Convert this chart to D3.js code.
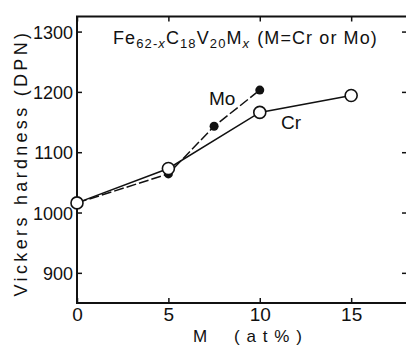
<!DOCTYPE html>
<html>
<head>
<meta charset="utf-8">
<script src="https://cdn.jsdelivr.net/npm/d3@7"></script>
<style>
  body { margin: 0; background: #fff; }
  svg { display: block; }
  text { font-family: "Liberation Sans", Arial, sans-serif; fill: #111; }
  .axis path { display: none; }
  .axis line { stroke: #111; stroke-width: 1.5; }
</style>
</head>
<body>
<div id="chart"></div>
<script>
// Cr series (open circles, solid line)
var crX = [0, 5, 10, 15]
var crY = [1016, 1073, 1166, 1194]
// Mo series (filled dots, dashed line)
var moX = [0, 5, 7.5, 10]
var moY = [1016, 1064, 1143, 1203]

var xTicks = [0, 5, 10, 15]
var yTicks = [900, 1000, 1100, 1200, 1300]

var width = 406, height = 345

var svg = d3.select('#chart').append('svg')
  .attr('width', width).attr('height', height)

var x = d3.scaleLinear().domain([0, 18]).range([77, 406])
var y = d3.scaleLinear().domain([850, 1325]).range([303, 16.5])

// frame (right edge is cut off in the original)
svg.append('path')
  .attr('d', 'M412,' + y(1325) + 'H' + x(0) + 'V' + y(850) + 'H412')
  .attr('fill', 'none').attr('stroke', '#111').attr('stroke-width', 2)

// bottom axis
svg.append('g').attr('class', 'axis')
  .attr('transform', 'translate(0,' + y(850) + ')')
  .call(d3.axisBottom(x).tickValues(xTicks).tickSize(-5).tickPadding(5).tickFormat(d3.format('d')))
  .selectAll('text').style('font-size', '19px')

// top axis ticks
svg.append('g').attr('class', 'axis')
  .attr('transform', 'translate(0,' + y(1325) + ')')
  .call(d3.axisTop(x).tickValues(xTicks).tickSize(-5).tickFormat(''))

// left axis
svg.append('g').attr('class', 'axis')
  .attr('transform', 'translate(' + x(0) + ',0)')
  .call(d3.axisLeft(y).tickValues(yTicks).tickSize(-5).tickPadding(4).tickFormat(d3.format('d')))
  .selectAll('text').style('font-size', '18px').attr('dy', '0.36em')

// right axis ticks
svg.append('g').attr('class', 'axis')
  .attr('transform', 'translate(408,0)')
  .call(d3.axisRight(y).tickValues(yTicks).tickSize(-6).tickFormat(''))

var cr = crX.map(function(d, i){ return {x: d, y: crY[i]} })
var mo = moX.map(function(d, i){ return {x: d, y: moY[i]} })

var line = d3.line().x(function(d){ return x(d.x) }).y(function(d){ return y(d.y) })

svg.append('path').attr('d', line(mo))
  .attr('fill', 'none').attr('stroke', '#111').attr('stroke-width', 1.5)
  .attr('stroke-dasharray', '10,3')

svg.append('path').attr('d', line(cr))
  .attr('fill', 'none').attr('stroke', '#111').attr('stroke-width', 1.5)

svg.selectAll('circle.mo').data(mo.slice(1)).enter().append('circle')
  .attr('class', 'mo')
  .attr('cx', function(d){ return x(d.x) }).attr('cy', function(d){ return y(d.y) })
  .attr('r', 4.5).attr('fill', '#111')

svg.selectAll('circle.cr').data(cr).enter().append('circle')
  .attr('class', 'cr')
  .attr('cx', function(d){ return x(d.x) }).attr('cy', function(d){ return y(d.y) })
  .attr('r', 6).attr('fill', '#fff').attr('stroke', '#111').attr('stroke-width', 1.6)

// series labels
svg.append('text').attr('x', 209).attr('y', 105).style('font-size', '19px').text('Mo')
svg.append('text').attr('x', 281).attr('y', 129).style('font-size', '19px').text('Cr')

// title with subscripts
var title = svg.append('text').attr('x', 113).attr('y', 44)
  .style('font-size', '18px').style('letter-spacing', '1.1px')
title.append('tspan').text('Fe')
title.append('tspan').attr('dy', 4).style('font-size', '13px').text('62-')
title.append('tspan').style('font-size', '13px').style('font-style', 'italic').text('x')
title.append('tspan').attr('dy', -4).text('C')
title.append('tspan').attr('dy', 4).style('font-size', '13px').text('18')
title.append('tspan').attr('dy', -4).text('V')
title.append('tspan').attr('dy', 4).style('font-size', '13px').text('20')
title.append('tspan').attr('dy', -4).text('M')
title.append('tspan').attr('dy', 4).style('font-size', '13px').style('font-style', 'italic').text('x')
title.append('tspan').attr('dy', -4).attr('dx', 7).text('(M=Cr or Mo)')

// axis titles
svg.append('text').attr('x', 200).attr('y', 342).attr('text-anchor', 'middle')
  .style('font-size', '17px').text('M')
svg.append('text').attr('x', 268).attr('y', 342).attr('text-anchor', 'middle')
  .style('font-size', '17px').attr('textLength', 68).text('(at%)')

svg.append('text').attr('transform', 'translate(27,257) rotate(-90)')
  .attr('text-anchor', 'middle').style('font-size', '18px')
  .attr('textLength', 79).text('Vickers')
svg.append('text').attr('transform', 'translate(27,119) rotate(-90)')
  .attr('text-anchor', 'middle').style('font-size', '18px')
  .attr('textLength', 172).text('hardness (DPN)')
</script>
</body>
</html>
